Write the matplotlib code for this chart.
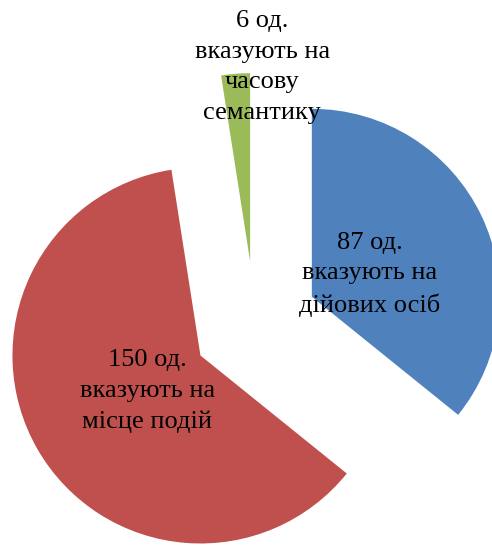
import matplotlib
matplotlib.use("Agg")

import numpy as np
import matplotlib.pyplot as plt

# ---------------------------------------------------------------------------
# DATA
# ---------------------------------------------------------------------------

values = [87, 150, 6]
labels = [
    "87 од.\nвказують на\nдійових осіб",
    "150 од.\nвказують на\nмісце подій",
    "6 од.\nвказують на\nчасову\nсемантику",
]
colors = ["#4F81BD", "#C0504D", "#9BBB59"]

# ---------------------------------------------------------------------------
# PLOT
# ---------------------------------------------------------------------------

fig = plt.figure(figsize=(4.92, 5.46), dpi=100)
ax = fig.add_axes([0, 0, 1, 1])

wedges, _ = ax.pie(
    values,
    colors=colors,
    startangle=90,
    counterclock=False,
    explode=[0.335] * len(values),
    radius=1.0,
    wedgeprops=dict(linewidth=0),
)

# label distance from each wedge's own apex (fraction of radius)
label_dist = [0.33, 0.34, 1.036]
label_angle_shift = [-4.5, 4.0, -8.0]

for w, text, d, da in zip(wedges, labels, label_dist, label_angle_shift):
    mid = np.deg2rad((w.theta1 + w.theta2) / 2 + da)
    cx, cy = w.center
    ax.text(
        cx + d * np.cos(mid),
        cy + d * np.sin(mid),
        text,
        ha="center",
        va="center",
        fontsize=19,
        family="Liberation Serif",
        color="black",
        linespacing=1.5,
    )

# pixel-matched view: pie centre at (255, 324) px, radius 188 px
scale = 188.0
ax.set_xlim(-255 / scale, (492 - 255) / scale)
ax.set_ylim(-(546 - 324) / scale, 324 / scale)
ax.set_aspect("auto")
ax.set_axis_off()

fig.savefig("out.png", dpi=100)
plt.close(fig)
